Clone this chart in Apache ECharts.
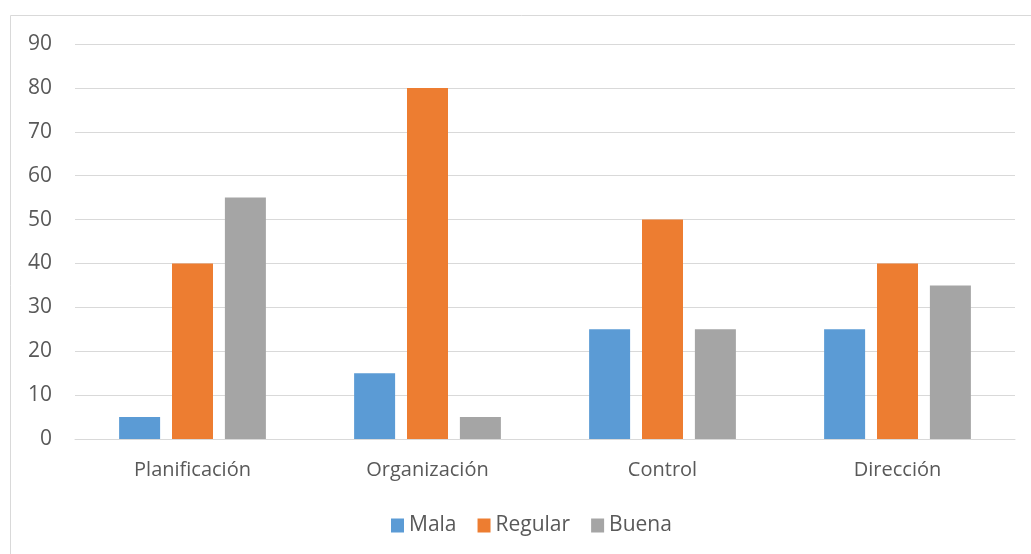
<!DOCTYPE html>
<html><head><meta charset="utf-8">
<script src="https://cdn.jsdelivr.net/npm/echarts@6/dist/echarts.min.js"></script>
<style>html,body{margin:0;padding:0;background:#fff}#c{width:1031px;height:554px}</style>
</head><body><div id="c"></div>
<script>
const categories = ['Planificación', 'Organización', 'Control', 'Dirección'];
const mala = [5, 15, 25, 25];
const regular = [40, 80, 50, 40];
const buena = [55, 5, 25, 35];
const seriesNames = ['Mala', 'Regular', 'Buena'];
const colors = ['#5b9bd5', '#ed7d31', '#a5a5a5'];

const chart = echarts.init(document.getElementById('c'));
const font = 'Open Sans';
chart.setOption({
  animation: false,
  textStyle: { fontFamily: font },
  graphic: [{ type: 'rect', shape: { x: 10.5, y: 15.5, width: 1030, height: 560 }, style: { fill: 'none', stroke: '#d9d9d9', lineWidth: 1 }, silent: true }],
  grid: { left: 75, right: 16, top: 44, bottom: 115 },
  legend: {
    top: 510, left: 386, itemWidth: 13, itemHeight: 14, itemGap: 21,
    icon: 'rect', textStyle: { color: '#595959', fontSize: 21, fontFamily: font },
    data: seriesNames
  },
  xAxis: {
    type: 'category', data: categories,
    axisLine: { lineStyle: { color: '#d9d9d9', width: 1 } },
    axisTick: { show: false },
    axisLabel: { color: '#595959', fontSize: 20, margin: 21, fontFamily: font }
  },
  yAxis: {
    type: 'value', min: 0, max: 90, interval: 10,
    axisLine: { show: false }, axisTick: { show: false },
    splitLine: { lineStyle: { color: '#d9d9d9', width: 1 } },
    axisLabel: { color: '#595959', fontSize: 21, margin: 23, fontFamily: font }
  },
  series: [
    { name: seriesNames[0], type: 'bar', data: mala, barWidth: 41, barGap: '29%', itemStyle: { color: colors[0] } },
    { name: seriesNames[1], type: 'bar', data: regular, barWidth: 41, barGap: '29%', itemStyle: { color: colors[1] } },
    { name: seriesNames[2], type: 'bar', data: buena, barWidth: 41, barGap: '29%', itemStyle: { color: colors[2] } }
  ]
});
</script></body></html>
